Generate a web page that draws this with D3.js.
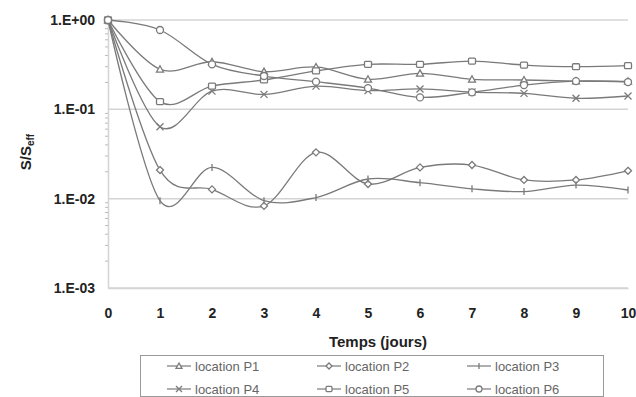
<!DOCTYPE html>
<html>
<head>
<meta charset="utf-8">
<title>S/Seff</title>
<script src="https://cdn.jsdelivr.net/npm/d3@7"></script>
<style>
body { margin:0; background:#fff; }
svg { font-family: "Liberation Sans", Arial, sans-serif; }
.tick text { font-weight:bold; fill:#222; font-size:14px; }
</style>
</head>
<body>
<svg></svg>
<script>
// days
var days = [0,1,2,3,4,5,6,7,8,9,10];
var seriesNames = ["location P1","location P2","location P3","location P4","location P5","location P6"];
var symbols = ["triangle","diamond","plus","cross","square","circle"];
// S/Seff
var p1 = [1, 0.281, 0.341, 0.264, 0.298, 0.217, 0.253, 0.217, 0.213, 0.207, 0.206];
var p2 = [1, 0.0209, 0.0127, 0.0083, 0.033, 0.0146, 0.0224, 0.0238, 0.0162, 0.0162, 0.0205];
var p3 = [1, 0.0095, 0.0224, 0.0095, 0.0103, 0.0166, 0.0151, 0.0129, 0.0120, 0.0142, 0.0125];
var p4 = [1, 0.0639, 0.160, 0.147, 0.182, 0.162, 0.169, 0.156, 0.151, 0.133, 0.141];
var p5 = [1, 0.122, 0.182, 0.213, 0.269, 0.319, 0.319, 0.347, 0.313, 0.300, 0.308];
var p6 = [1, 0.773, 0.319, 0.236, 0.204, 0.173, 0.136, 0.155, 0.187, 0.207, 0.202];
var allValues = [p1,p2,p3,p4,p5,p6];
var yTicks = [1, 0.1, 0.01, 0.001];
var yTickLabels = ["1.E+00","1.E-01","1.E-02","1.E-03"];

var W = 636, H = 397;
var svg = d3.select("svg").attr("width",W).attr("height",H);

var x = d3.scaleLinear().domain([0,10]).range([108,628]);
var y = d3.scaleLog().domain([0.001,1]).range([288,20]);

var gridCol = "#d4d4d4", lineCol = "#7a7a7a";

//grid lines
svg.append("g").selectAll("line")
	.data(yTicks)
	.enter().append("line")
		.attr("x1",x(0)).attr("x2",x(10))
		.attr("y1",function(d){return y(d);})
		.attr("y2",function(d){return y(d);})
		.style("stroke",gridCol).style("stroke-width",1.5);

//y axis (with minor ticks)
var minor = [];
[0.001,0.01,0.1].forEach(function(b){ for(var k=2;k<10;k++) minor.push(b*k); });
var yAxis = svg.append("g")
	.attr("transform","translate("+x(0)+",0)")
	.call(d3.axisLeft(y).tickValues(yTicks).tickFormat(function(d,i){return yTickLabels[i];}).tickSize(0).tickPadding(13));
yAxis.select(".domain").style("stroke",gridCol).style("stroke-width",1.5);
svg.append("g").selectAll("line")
	.data(minor)
	.enter().append("line")
		.attr("x1",x(0)-3).attr("x2",x(0))
		.attr("y1",function(d){return y(d);})
		.attr("y2",function(d){return y(d);})
		.style("stroke","#bbb");

//x axis
var xAxis = svg.append("g")
	.attr("transform","translate(0,"+y(0.001)+")")
	.call(d3.axisBottom(x).tickValues(days).tickSize(0).tickPadding(20));
xAxis.select(".domain").style("stroke",gridCol).style("stroke-width",1.5);

//axis titles
svg.append("text")
	.attr("x",378).attr("y",347)
	.attr("text-anchor","middle")
	.style("font-weight","bold").style("font-size","15px").style("fill","#222")
	.text("Temps (jours)");

var yt = svg.append("text")
	.attr("transform","translate(31,152) rotate(-90)")
	.attr("text-anchor","middle")
	.style("font-weight","bold").style("font-size","15px").style("fill","#222");
yt.append("tspan").text("S/S");
yt.append("tspan").attr("dy",3).style("font-size","10px").text("eff");

//markers
function marker(g, type, s) {
	var m;
	switch(type) {
		case "triangle":
			m = g.append("path").attr("d","M0,"+(-s)+" L"+s+","+(s*0.8)+" L"+(-s)+","+(s*0.8)+"Z");
			break;
		case "diamond":
			m = g.append("path").attr("d","M0,"+(-s)+" L"+s+",0 L0,"+s+" L"+(-s)+",0Z");
			break;
		case "plus":
			m = g.append("path").attr("d","M0,"+(-s)+" V"+s);
			break;
		case "cross":
			m = g.append("path").attr("d","M"+(-s)+","+(-s)+" L"+s+","+s+" M"+s+","+(-s)+" L"+(-s)+","+s);
			break;
		case "square":
			m = g.append("rect").attr("x",-s).attr("y",-s*0.85).attr("width",2*s).attr("height",1.7*s).attr("rx",1);
			break;
		default:
			m = g.append("circle").attr("r",s);
	}
	m.style("fill","#fff").style("stroke",lineCol).style("stroke-width",1.3);
}

// excel-like smoothing (uniform catmull-rom)
var line = d3.line()
	.x(function(d){return x(d[0]);})
	.y(function(d){return y(d[1]);})
	.curve(d3.curveCatmullRom.alpha(0));

allValues.forEach(function(vals,si) {
	var pts = days.map(function(d,i){return [d,vals[i]];});
	svg.append("path")
		.attr("d",line(pts))
		.style("fill","none").style("stroke",lineCol).style("stroke-width",1.3);
});
allValues.forEach(function(vals,si) {
	days.forEach(function(d,i) {
		var g = svg.append("g").attr("transform","translate("+x(d)+","+y(vals[i])+")");
		marker(g,symbols[si],3.5);
	});
});

//legend
svg.append("rect")
	.attr("x",140.5).attr("y",355.5).attr("width",463).attr("height",41)
	.style("fill","none").style("stroke","#999");
var colX = [167,317,467], rowY = [366,389];
seriesNames.forEach(function(n,i) {
	var cx = colX[i%3], cy = rowY[Math.floor(i/3)];
	svg.append("line").attr("x1",cx).attr("x2",cx+24).attr("y1",cy).attr("y2",cy)
		.style("stroke",lineCol).style("stroke-width",1.2);
	var g = svg.append("g").attr("transform","translate("+(cx+12)+","+cy+")");
	marker(g,symbols[i],3);
	svg.append("text").attr("x",cx+28).attr("y",cy+5)
		.style("font-size","13px").style("fill","#666")
		.text(n);
});
</script>
</body>
</html>
